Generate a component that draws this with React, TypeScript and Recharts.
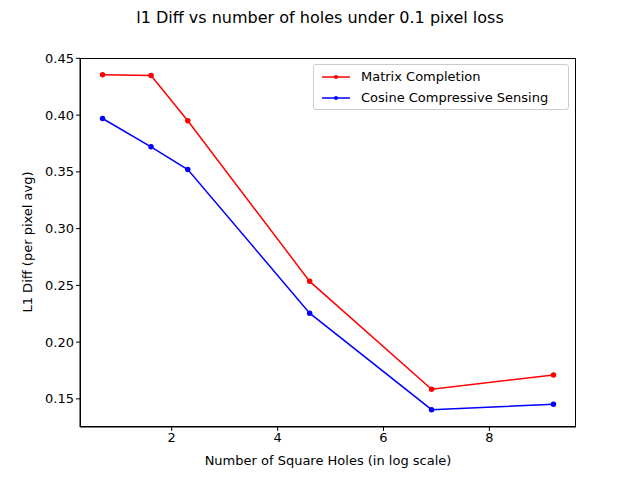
import { LineChart, Line, XAxis, YAxis } from 'recharts';

const logHoles = [0.693, 1.609, 2.303, 4.605, 6.908, 9.21];
const matrixCompletion = [0.4355, 0.4348, 0.395, 0.2535, 0.1585, 0.171];
const cosineSensing = [0.397, 0.372, 0.352, 0.2255, 0.1405, 0.1452];
const xTicks = [2, 4, 6, 8];
const yTicks = [0.15, 0.2, 0.25, 0.3, 0.35, 0.4, 0.45];

const data = logHoles.map((x, i) => ({ x, mc: matrixCompletion[i], cs: cosineSensing[i] }));

const font = 'DejaVu Sans, sans-serif';
const series = [
  { name: 'Matrix Completion', color: '#ff0000' },
  { name: 'Cosine Compressive Sensing', color: '#0000ff' },
];

function LegendBox() {
  return (
    <div style={{ position: 'absolute', left: 313, top: 64, width: 238, border: '1px solid #cccccc', borderRadius: 3, background: '#fff', padding: '1px 8px', fontFamily: font, fontSize: 13 }}>
      {series.map((s) => (
        <div key={s.name} style={{ display: 'flex', alignItems: 'center', height: 21 }}>
          <svg width={30} height={10} style={{ marginRight: 9 }}>
            <line x1={0} y1={5} x2={28} y2={5} stroke={s.color} strokeWidth={1.5} />
            <circle cx={14} cy={5} r={2} fill={s.color} />
          </svg>
          {s.name}
        </div>
      ))}
    </div>
  );
}

export default function App() {
  return (
    <div style={{ position: 'absolute', left: 0, top: 0, width: 640, height: 480, background: '#fff', fontFamily: font }}>
      <div style={{ position: 'absolute', top: 8, width: 640, textAlign: 'center', fontSize: 16 }}>
        l1 Diff vs number of holes under 0.1 pixel loss
      </div>
      <div style={{ position: 'absolute', top: 453, left: 80, width: 496, textAlign: 'center', fontSize: 13 }}>
        Number of Square Holes (in log scale)
      </div>
      <div style={{ position: 'absolute', left: 27, top: 242, transform: 'translate(-50%, -50%) rotate(-90deg)', whiteSpace: 'nowrap', fontSize: 13 }}>
        L1 Diff (per pixel avg)
      </div>
      <div style={{ position: 'absolute', left: 80, top: 58, width: 496, height: 369, border: '1px solid #000', boxSizing: 'border-box' }} />
      <LineChart width={640} height={480} data={data} margin={{ top: 58, right: 64, bottom: 23, left: 0 }} style={{ position: 'absolute', left: 0, top: 0 }}>
        <XAxis type="number" dataKey="x" domain={[0.267, 9.636]} ticks={xTicks} height={30}
          tick={{ fill: '#000', fontSize: 13, fontFamily: font }} tickLine={{ stroke: '#000' }} axisLine={{ stroke: '#000' }} tickSize={4} allowDataOverflow />
        <YAxis type="number" domain={[0.1252, 0.4503]} ticks={yTicks} width={80} tickFormatter={(v) => v.toFixed(2)}
          tick={{ fill: '#000', fontSize: 13, fontFamily: font }} tickLine={{ stroke: '#000' }} axisLine={{ stroke: '#000' }} tickSize={4} allowDataOverflow />
        <Line dataKey="mc" name={series[0].name} stroke={series[0].color} strokeWidth={1.5} dot={{ r: 2, fill: series[0].color, stroke: series[0].color }} isAnimationActive={false} />
        <Line dataKey="cs" name={series[1].name} stroke={series[1].color} strokeWidth={1.5} dot={{ r: 2, fill: series[1].color, stroke: series[1].color }} isAnimationActive={false} />
      </LineChart>
      <LegendBox />
    </div>
  );
}
